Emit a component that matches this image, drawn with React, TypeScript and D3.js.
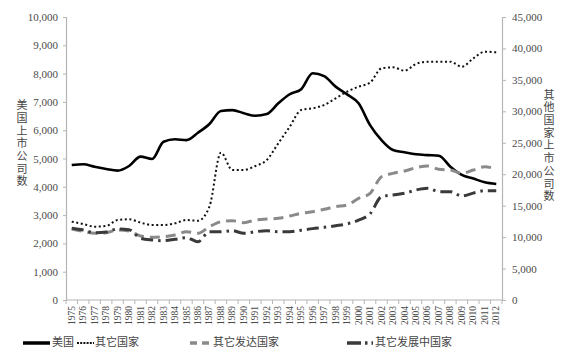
import React, { useEffect, useRef } from "react";
import * as d3 from "d3";

const years = [
  "1975", "1976", "1977", "1978", "1979", "1980", "1981", "1982", "1983", "1984",
  "1985", "1986", "1987", "1988", "1989", "1990", "1991", "1992", "1993", "1994",
  "1995", "1996", "1997", "1998", "1999", "2000", "2001", "2002", "2003", "2004",
  "2005", "2006", "2007", "2008", "2009", "2010", "2011", "2012",
];

// left axis
const usa = [
  4770, 4795, 4710, 4630, 4570, 4735, 5065, 4980, 5590, 5680,
  5650, 5910, 6220, 6680, 6710, 6600, 6510, 6570, 6950, 7270,
  7450, 8010, 7910, 7540, 7265, 6950, 6180, 5650, 5300, 5220,
  5150, 5120, 5100, 4710, 4420, 4290, 4160, 4100,
];

// right axis
const others = [
  12450, 12080, 11660, 11770, 12720, 12830, 12300, 11930, 11930, 12190,
  12720, 12600, 14840, 23430, 20670, 20670, 21310, 22260, 24910, 27560,
  30210, 30480, 31000, 32060, 33130, 33920, 34560, 36840, 37000, 36460,
  37530, 37890, 37890, 37890, 37100, 38420, 39480, 39370,
];

const developed = [
  11300, 10900, 10600, 10700, 11130, 10970, 10180, 9970, 10070, 10340,
  10860, 10600, 11660, 12450, 12610, 12300, 12720, 12880, 12990, 13360,
  13780, 14040, 14420, 14840, 15100, 16170, 16960, 19610, 20140, 20510,
  21040, 21310, 20780, 20670, 20140, 20670, 21200, 20780,
];

const developing = [
  11400, 11130, 10700, 10800, 11290, 11180, 9800, 9540, 9430, 9650,
  9910, 9270, 10860, 10860, 11020, 10600, 10860, 11020, 10860, 10860,
  11100, 11350, 11550, 11800, 12100, 12700, 13700, 16430, 16700, 16960,
  17490, 17760, 17230, 17230, 16540, 17000, 17380, 17380,
];

const leftTicks = [0, 1000, 2000, 3000, 4000, 5000, 6000, 7000, 8000, 9000, 10000];
const rightTicks = [0, 5000, 10000, 15000, 20000, 25000, 30000, 35000, 40000, 45000];

const leftTitle = "美国上市公司数";
const rightTitle = "其他国家上市公司数";

const series = [
  { name: "美国", values: usa, axis: "left", color: "#000", width: 2.6, dash: null },
  { name: "其它国家", values: others, axis: "right", color: "#111", width: 2, dash: "2,2.6" },
  { name: "其它发达国家", values: developed, axis: "right", color: "#8a8a8a", width: 3, dash: "10,6" },
  { name: "其它发展中国家", values: developing, axis: "right", color: "#3a3a3a", width: 3, dash: "12,5,2.5,5" },
];

const serif = "'Liberation Serif', 'Times New Roman', serif";
const cjk = "'Noto Sans CJK SC', sans-serif";

function Chart() {
  const ref = useRef<SVGSVGElement>(null);

  useEffect(() => {
    const svg = d3.select(ref.current);
    svg.selectAll("*").remove();

    const left = 66, right = 502, top = 17, bottom = 300;

    const x = d3.scaleBand().domain(years).range([left, right]).padding(0);
    const yL = d3.scaleLinear().domain([0, 10000]).range([bottom, top]);
    const yR = d3.scaleLinear().domain([0, 45000]).range([bottom, top]);
    const fmt = d3.format(",");

    // left axis
    const gl = svg.append("g").attr("transform", `translate(${left},0)`)
      .call(d3.axisLeft(yL).tickValues(leftTicks).tickSize(3).tickPadding(5).tickFormat((d) => fmt(d as number)));
    // right axis
    const gr = svg.append("g").attr("transform", `translate(${right},0)`)
      .call(d3.axisRight(yR).tickValues(rightTicks).tickSize(4).tickPadding(6).tickFormat((d) => fmt(d as number)));
    // bottom axis
    const gb = svg.append("g").attr("transform", `translate(0,${bottom})`)
      .call(d3.axisBottom(x).tickSize(0).tickPadding(0));

    [gl, gr, gb].forEach((g) => {
      g.select(".domain").attr("stroke", "#b5b5b5").attr("stroke-width", 1.2);
      g.selectAll(".tick line").attr("stroke", "#b5b5b5");
      g.selectAll(".tick text").attr("fill", "#4a4a4a").attr("font-family", serif).attr("font-size", 11);
    });
    gb.select(".domain").attr("d", `M${left},0H${right}`);
    gb.selectAll(".tick text")
      .attr("font-size", 9.5)
      .attr("transform", "rotate(-90)")
      .attr("text-anchor", "end")
      .attr("dy", "0.32em")
      .attr("x", -6)
      .attr("y", 0);

    // ticks between categories
    svg.append("g").selectAll("line")
      .data(years.concat(["end"]))
      .join("line")
      .attr("x1", (d, i) => left + i * x.step())
      .attr("x2", (d, i) => left + i * x.step())
      .attr("y1", bottom)
      .attr("y2", bottom + 4)
      .attr("stroke", "#b5b5b5");

    // lines
    series.forEach((s) => {
      const y = s.axis === "left" ? yL : yR;
      const line = d3.line<number>()
        .x((d, i) => (x(years[i]) as number) + x.bandwidth() / 2)
        .y((d) => y(d))
        .curve(d3.curveMonotoneX);
      svg.append("path")
        .datum(s.values)
        .attr("d", line)
        .attr("fill", "none")
        .attr("stroke", s.color)
        .attr("stroke-width", s.width)
        .attr("stroke-dasharray", s.dash)
        .attr("stroke-linejoin", "round");
    });

    // axis titles, vertical text
    [
      { t: leftTitle, x: 22, y: 99.5 },
      { t: rightTitle, x: 549, y: 89 },
    ].forEach((a) => {
      svg.append("text")
        .attr("x", a.x)
        .attr("y", a.y)
        .style("writing-mode", "vertical-rl")
        .style("text-orientation", "upright")
        .style("letter-spacing", "1.7px")
        .attr("font-family", cjk)
        .attr("font-size", 11)
        .attr("fill", "#444")
        .text(a.t);
    });

    // legend
    const legendY = 343;
    const legendPos = [
      { x1: 23, x2: 50, tx: 52 },
      { x1: 77, x2: 94, tx: 95 },
      { x1: 190, x2: 210, tx: 213 },
      { x1: 347, x2: 373, tx: 375 },
    ];
    const legendDash = [null, "2,1.2", "7,5", "14,4,2.5,4"];
    const leg = svg.append("g");
    series.forEach((s, i) => {
      const p = legendPos[i];
      leg.append("line")
        .attr("x1", p.x1).attr("x2", p.x2)
        .attr("y1", legendY).attr("y2", legendY)
        .attr("stroke", s.color)
        .attr("stroke-width", i === 1 ? 2 : 3.5)
        .attr("stroke-dasharray", legendDash[i]);
      leg.append("text")
        .attr("x", p.tx).attr("y", legendY)
        .attr("dominant-baseline", "middle")
        .attr("font-family", cjk)
        .attr("font-size", 11)
        .attr("fill", "#444")
        .text(s.name);
    });
  }, []);

  return (
    <svg
      ref={ref}
      width={566}
      height={353}
      style={{ position: "absolute", left: 0, top: 0, background: "#fff" }}
    />
  );
}

export default function App() {
  return <Chart />;
}
